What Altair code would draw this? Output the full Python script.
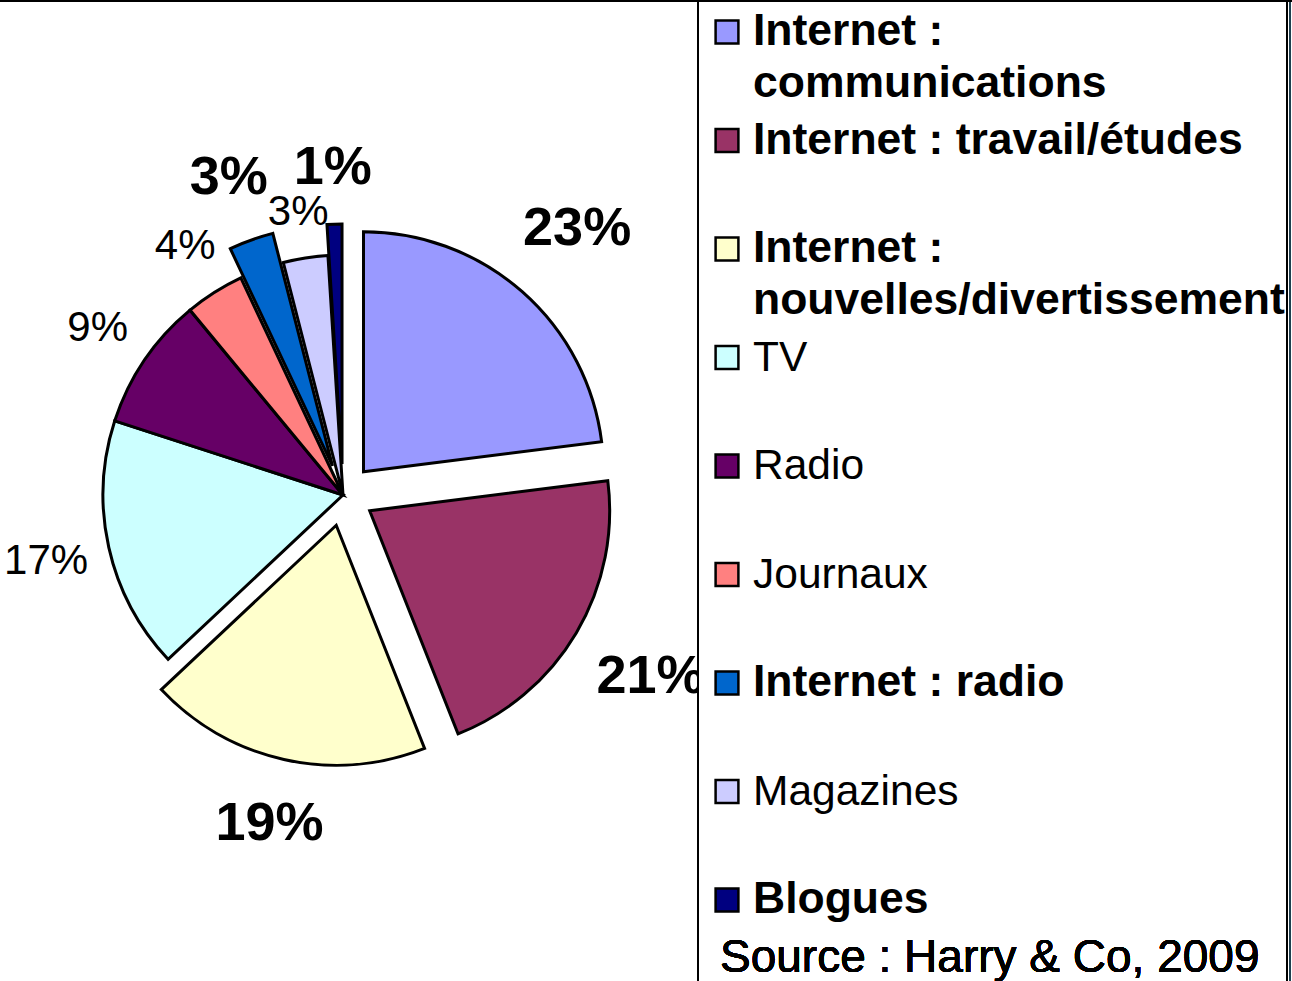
import altair as alt
import pandas as pd

# ---- données ----
categories = [
    "Internet : communications",
    "Internet : travail/études",
    "Internet : nouvelles/divertissement",
    "TV",
    "Radio",
    "Journaux",
    "Internet : radio",
    "Magazines",
    "Blogues",
]
legend_labels = [
    "Internet :\ncommunications",
    "Internet : travail/études",
    "Internet :\nnouvelles/divertissement",
    "TV",
    "Radio",
    "Journaux",
    "Internet : radio",
    "Magazines",
    "Blogues",
]
values = [23, 21, 19, 17, 9, 4, 3, 3, 1]
highlight = [True, True, True, False, False, False, True, False, True]
colors = ["#9999FF", "#993366", "#FFFFCC", "#CCFFFF", "#660066",
          "#FF8080", "#0066CC", "#CCCCFF", "#000080"]
source_text = "Source : Harry & Co, 2009"

df = pd.DataFrame({
    "cat": categories,
    "leg": legend_labels,
    "val": values,
    "hl": highlight,
    "ordre": list(range(len(categories))),
})

FONT = "Liberation Sans"
color_scale = alt.Scale(domain=categories, range=colors)

base = (
    alt.Chart(df)
    .transform_window(cum="sum(val)", sort=[alt.SortField("ordre")], frame=[None, 0])
    .transform_joinaggregate(tot="sum(val)")
    .transform_calculate(
        a1="datum.cum / datum.tot * 2 * PI",
        a0="(datum.cum - datum.val) / datum.tot * 2 * PI",
        lab="datum.val + '%'",
    )
    .transform_calculate(
        m="(datum.a0 + datum.a1) / 2",
        d="datum.hl ? 31 : 0",
        fs="datum.hl ? 54 : 42",
        gap="datum.hl ? 24 : 18",
    )
    .transform_calculate(
        cx="343 + datum.d * sin(datum.m)",
        cy="495 - datum.d * cos(datum.m)",
        tw="datum.fs * (0.556 * (length(datum.lab) - 1) + 0.889)",
        th="datum.fs * 1.15",
    )
    .transform_calculate(
        lr="240 + datum.gap + datum.tw / 2 * abs(sin(datum.m)) + datum.th / 2 * abs(cos(datum.m))"
    )
    .transform_calculate(
        lx="datum.cx + datum.lr * sin(datum.m)",
        ly="datum.cy - datum.lr * cos(datum.m)",
    )
)

arcs = base.mark_arc(radius=240, stroke="black", strokeWidth=3, strokeJoin="miter").encode(
    x=alt.X("cx:Q", scale=None, axis=None),
    y=alt.Y("cy:Q", scale=None, axis=None),
    theta=alt.Theta("a0:Q", scale=None),
    theta2=alt.Theta2("a1:Q"),
    color=alt.Color("cat:N", scale=color_scale, legend=None),
)

lab_bold = base.transform_filter("datum.hl").mark_text(
    font=FONT, fontSize=54, fontWeight="bold", align="center", baseline="middle", color="black"
).encode(
    x=alt.X("lx:Q", scale=None, axis=None),
    y=alt.Y("ly:Q", scale=None, axis=None),
    text="lab:N",
)
lab_reg = base.transform_filter("!datum.hl").mark_text(
    font=FONT, fontSize=42, align="center", baseline="middle", color="black"
).encode(
    x=alt.X("lx:Q", scale=None, axis=None),
    y=alt.Y("ly:Q", scale=None, axis=None),
    text="lab:N",
)

box = alt.Chart(df).mark_rect(fill="white", stroke="black", strokeWidth=2).encode(
    x=alt.value(698), x2=alt.value(1287), y=alt.value(-10), y2=alt.value(995)
)
right_line = alt.Chart(df).mark_rule(color="#1f3f4f", strokeWidth=2).encode(
    x=alt.value(1290), y=alt.value(0), y2=alt.value(981)
)
top_line = alt.Chart(df).mark_rule(color="black", strokeWidth=2).encode(
    x=alt.value(0), x2=alt.value(1292), y=alt.value(1)
)

leg_y = alt.Y("cat:N", scale=alt.Scale(type="point", domain=categories, range=[32, 900], padding=0), axis=None)

markers = alt.Chart(df).mark_square(size=520, stroke="black", strokeWidth=2.5, opacity=1).encode(
    x=alt.value(727),
    y=leg_y,
    color=alt.Color("cat:N", scale=color_scale, legend=None),
)
leg_bold = alt.Chart(df).transform_filter("datum.hl").mark_text(
    font=FONT, fontSize=44.5, fontWeight="bold", align="left", baseline="alphabetic",
    dy=13, lineBreak="\n", lineHeight=52, color="black"
).encode(x=alt.value(753), y=leg_y, text="leg:N")
leg_reg = alt.Chart(df).transform_filter("!datum.hl").mark_text(
    font=FONT, fontSize=42.5, align="left", baseline="alphabetic",
    dy=13, lineBreak="\n", lineHeight=52, color="black"
).encode(x=alt.value(753), y=leg_y, text="leg:N")

source = alt.Chart(df).mark_text(
    font=FONT, fontSize=46, align="left", baseline="alphabetic", color="black"
).encode(x=alt.value(720), y=alt.value(972), text=alt.value(source_text))

chart = (
    alt.layer(arcs, lab_bold, lab_reg, box, right_line, top_line, markers, leg_bold, leg_reg, source)
    .resolve_scale(x="independent", y="independent", color="shared")
    .properties(width=1292, height=981, padding=0, autosize="none", background="white")
    .configure_view(stroke=None)
)

chart.save("out.html", embed_options={"renderer": "svg", "actions": False})
